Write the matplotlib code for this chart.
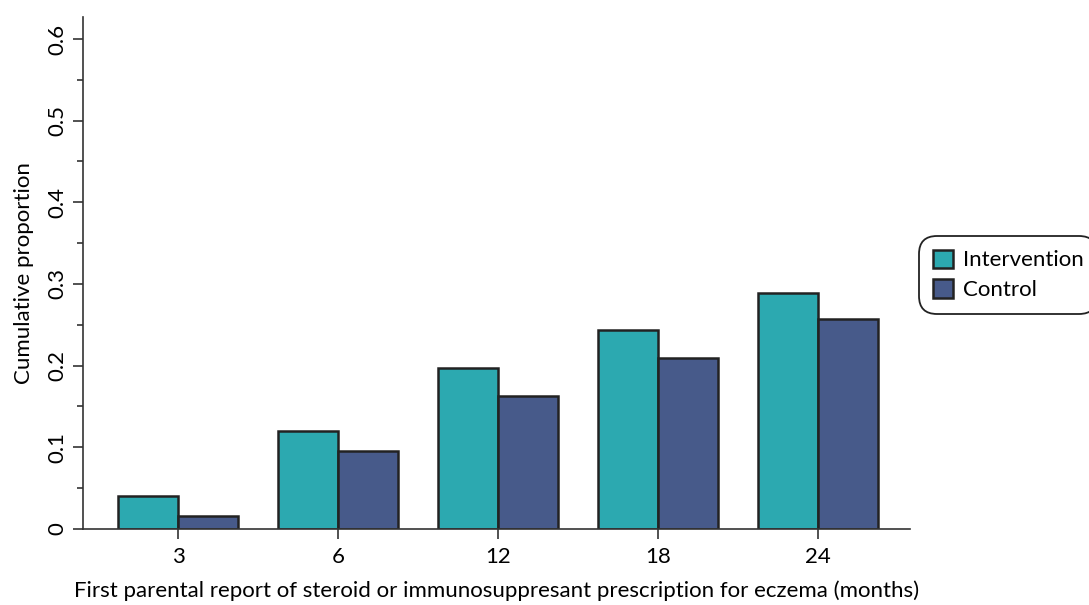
import numpy as np
import matplotlib.pyplot as plt
from matplotlib.ticker import MultipleLocator

plt.rcParams['font.family'] = ['Lato', 'DejaVu Sans']

months = ['3', '6', '12', '18', '24']
intervention = [0.040, 0.120, 0.197, 0.243, 0.289]
control = [0.016, 0.095, 0.163, 0.209, 0.257]

fig = plt.figure(figsize=(10.89, 6.05), dpi=100)
ax = fig.add_axes([0.0762, 0.126, 0.7594, 0.846])

x = np.arange(len(months))
w = 0.375
ax.bar(x - w / 2, intervention, w, color='#2ca9b0', edgecolor='#222222', linewidth=1.8, label='Intervention')
ax.bar(x + w / 2, control, w, color='#475a8a', edgecolor='#222222', linewidth=1.8, label='Control')

ax.set_xlim(-0.594, 4.575)
ax.set_ylim(0, 0.627)
ax.set_xticks(x)
ax.set_xticklabels(months)
ax.yaxis.set_minor_locator(MultipleLocator(0.05))
ax.set_yticks([0, 0.1, 0.2, 0.3, 0.4, 0.5, 0.6])
ax.set_yticklabels(['0', '0.1', '0.2', '0.3', '0.4', '0.5', '0.6'], rotation=90, va='center')

for s in ['top', 'right']:
    ax.spines[s].set_visible(False)
for s in ['left', 'bottom']:
    ax.spines[s].set_linewidth(1.2)
    ax.spines[s].set_color('#333333')
ax.tick_params(axis='both', which='major', length=7, width=1.2, color='#333333', labelsize=16)
ax.tick_params(axis='x', which='major', pad=6)
ax.tick_params(axis='y', which='major', pad=4)
ax.tick_params(axis='y', which='minor', length=4, width=1.2, color='#333333')

ax.set_xlabel('First parental report of steroid or immunosuppresant prescription for eczema (months)', fontsize=16, labelpad=10)
ax.set_ylabel('Cumulative proportion', fontsize=16, labelpad=10)

leg = ax.legend(loc='center left', bbox_to_anchor=(0.998, 0.496), fontsize=16, frameon=True,
                fancybox=True, edgecolor='#222222', framealpha=1, handlelength=0.9, handleheight=0.9,
                handletextpad=0.45, borderpad=0.6, labelspacing=0.4)
leg.get_frame().set_linewidth(1.3)
leg.get_frame().set_boxstyle('round', pad=0, rounding_size=0.8)

fig.savefig('out.png', dpi=100)
